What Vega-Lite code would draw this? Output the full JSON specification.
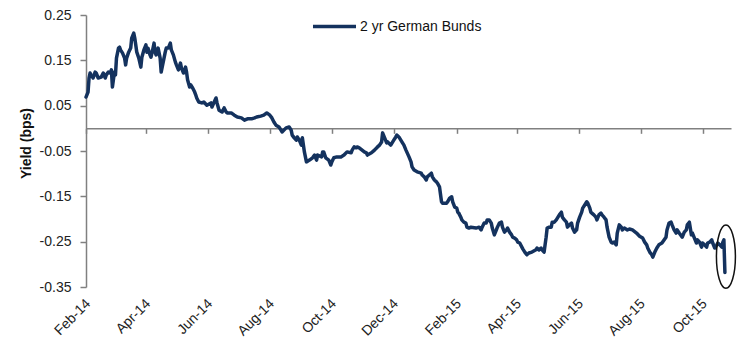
{
  "$schema": "https://vega.github.io/schema/vega-lite/v6.json",
  "width": 645,
  "height": 272,
  "autosize": {"type": "none"},
  "padding": {"left": 86, "top": 15, "right": 8, "bottom": 54},
  "background": "white",
  "config": {"view": {"stroke": null}, "font": "Liberation Sans"},
  "layer": [
    {
      "data": {"values": [
        {"date":"2014-02-01","yield":0.069},{"date":"2014-02-03","yield":0.080},{"date":"2014-02-04","yield":0.111},{"date":"2014-02-05","yield":0.122},{"date":"2014-02-06","yield":0.118},{"date":"2014-02-08","yield":0.111},{"date":"2014-02-10","yield":0.124},{"date":"2014-02-11","yield":0.122},{"date":"2014-02-13","yield":0.111},{"date":"2014-02-16","yield":0.113},{"date":"2014-02-18","yield":0.122},{"date":"2014-02-20","yield":0.111},{"date":"2014-02-21","yield":0.118},{"date":"2014-02-23","yield":0.124},{"date":"2014-02-25","yield":0.122},{"date":"2014-02-26","yield":0.129},{"date":"2014-02-27","yield":0.091},
        {"date":"2014-03-01","yield":0.124},{"date":"2014-03-02","yield":0.118},{"date":"2014-03-03","yield":0.155},{"date":"2014-03-05","yield":0.177},{"date":"2014-03-06","yield":0.179},{"date":"2014-03-07","yield":0.173},{"date":"2014-03-09","yield":0.166},{"date":"2014-03-11","yield":0.155},{"date":"2014-03-12","yield":0.140},{"date":"2014-03-13","yield":0.155},{"date":"2014-03-15","yield":0.168},{"date":"2014-03-17","yield":0.177},{"date":"2014-03-18","yield":0.199},{"date":"2014-03-20","yield":0.210},{"date":"2014-03-21","yield":0.199},{"date":"2014-03-22","yield":0.184},{"date":"2014-03-23","yield":0.168},{"date":"2014-03-25","yield":0.155},{"date":"2014-03-27","yield":0.135},{"date":"2014-03-28","yield":0.157},{"date":"2014-03-30","yield":0.173},
        {"date":"2014-04-01","yield":0.184},{"date":"2014-04-02","yield":0.168},{"date":"2014-04-03","yield":0.177},{"date":"2014-04-05","yield":0.162},{"date":"2014-04-06","yield":0.157},{"date":"2014-04-08","yield":0.177},{"date":"2014-04-09","yield":0.188},{"date":"2014-04-10","yield":0.168},{"date":"2014-04-11","yield":0.162},{"date":"2014-04-13","yield":0.177},{"date":"2014-04-15","yield":0.155},{"date":"2014-04-16","yield":0.124},{"date":"2014-04-18","yield":0.146},{"date":"2014-04-20","yield":0.168},{"date":"2014-04-21","yield":0.177},{"date":"2014-04-23","yield":0.177},{"date":"2014-04-25","yield":0.188},{"date":"2014-04-26","yield":0.173},{"date":"2014-04-28","yield":0.162},{"date":"2014-04-30","yield":0.146},
        {"date":"2014-05-01","yield":0.140},{"date":"2014-05-03","yield":0.129},{"date":"2014-05-05","yield":0.144},{"date":"2014-05-06","yield":0.133},{"date":"2014-05-08","yield":0.122},{"date":"2014-05-10","yield":0.135},{"date":"2014-05-11","yield":0.124},{"date":"2014-05-12","yield":0.107},{"date":"2014-05-14","yield":0.091},{"date":"2014-05-15","yield":0.096},{"date":"2014-05-17","yield":0.089},{"date":"2014-05-19","yield":0.080},{"date":"2014-05-20","yield":0.074},{"date":"2014-05-21","yield":0.067},{"date":"2014-05-23","yield":0.058},{"date":"2014-05-26","yield":0.056},{"date":"2014-05-28","yield":0.058},{"date":"2014-05-31","yield":0.051},
        {"date":"2014-06-04","yield":0.056},{"date":"2014-06-05","yield":0.047},{"date":"2014-06-09","yield":0.067},{"date":"2014-06-10","yield":0.056},{"date":"2014-06-12","yield":0.040},{"date":"2014-06-15","yield":0.036},{"date":"2014-06-17","yield":0.045},{"date":"2014-06-19","yield":0.036},{"date":"2014-06-20","yield":0.034},{"date":"2014-06-24","yield":0.034},{"date":"2014-06-27","yield":0.029},{"date":"2014-06-30","yield":0.025},
        {"date":"2014-07-04","yield":0.023},{"date":"2014-07-07","yield":0.018},{"date":"2014-07-10","yield":0.021},{"date":"2014-07-14","yield":0.021},{"date":"2014-07-17","yield":0.023},{"date":"2014-07-19","yield":0.025},{"date":"2014-07-23","yield":0.027},{"date":"2014-07-26","yield":0.029},{"date":"2014-07-29","yield":0.034},
        {"date":"2014-08-01","yield":0.029},{"date":"2014-08-03","yield":0.023},{"date":"2014-08-05","yield":0.014},{"date":"2014-08-07","yield":0.007},{"date":"2014-08-10","yield":0.003},{"date":"2014-08-12","yield":-0.004},{"date":"2014-08-13","yield":-0.008},{"date":"2014-08-17","yield":0.001},{"date":"2014-08-20","yield":0.003},{"date":"2014-08-22","yield":-0.004},{"date":"2014-08-23","yield":-0.015},{"date":"2014-08-25","yield":-0.021},{"date":"2014-08-27","yield":-0.026},{"date":"2014-08-28","yield":-0.019},{"date":"2014-08-30","yield":-0.026},
        {"date":"2014-09-01","yield":-0.037},{"date":"2014-09-02","yield":-0.021},{"date":"2014-09-04","yield":-0.052},{"date":"2014-09-06","yield":-0.074},{"date":"2014-09-09","yield":-0.070},{"date":"2014-09-12","yield":-0.065},{"date":"2014-09-14","yield":-0.059},{"date":"2014-09-16","yield":-0.070},{"date":"2014-09-17","yield":-0.059},{"date":"2014-09-21","yield":-0.063},{"date":"2014-09-22","yield":-0.052},{"date":"2014-09-23","yield":-0.052},{"date":"2014-09-25","yield":-0.065},{"date":"2014-09-28","yield":-0.070},{"date":"2014-09-30","yield":-0.081},
        {"date":"2014-10-01","yield":-0.074},{"date":"2014-10-03","yield":-0.065},{"date":"2014-10-06","yield":-0.063},{"date":"2014-10-10","yield":-0.063},{"date":"2014-10-13","yield":-0.059},{"date":"2014-10-16","yield":-0.052},{"date":"2014-10-20","yield":-0.054},{"date":"2014-10-21","yield":-0.048},{"date":"2014-10-23","yield":-0.041},{"date":"2014-10-25","yield":-0.043},{"date":"2014-10-26","yield":-0.041},{"date":"2014-10-28","yield":-0.043},
        {"date":"2014-11-02","yield":-0.052},{"date":"2014-11-04","yield":-0.054},{"date":"2014-11-05","yield":-0.059},{"date":"2014-11-09","yield":-0.054},{"date":"2014-11-12","yield":-0.048},{"date":"2014-11-15","yield":-0.041},{"date":"2014-11-17","yield":-0.037},{"date":"2014-11-19","yield":-0.030},{"date":"2014-11-20","yield":-0.010},{"date":"2014-11-22","yield":-0.021},{"date":"2014-11-24","yield":-0.032},{"date":"2014-11-25","yield":-0.030},{"date":"2014-11-28","yield":-0.037},
        {"date":"2014-12-01","yield":-0.026},{"date":"2014-12-03","yield":-0.019},{"date":"2014-12-04","yield":-0.015},{"date":"2014-12-06","yield":-0.019},{"date":"2014-12-09","yield":-0.030},{"date":"2014-12-11","yield":-0.037},{"date":"2014-12-13","yield":-0.048},{"date":"2014-12-16","yield":-0.063},{"date":"2014-12-18","yield":-0.074},{"date":"2014-12-19","yield":-0.085},{"date":"2014-12-21","yield":-0.092},{"date":"2014-12-24","yield":-0.096},{"date":"2014-12-28","yield":-0.099},{"date":"2014-12-29","yield":-0.103},{"date":"2014-12-31","yield":-0.107},
        {"date":"2015-01-02","yield":-0.114},{"date":"2015-01-03","yield":-0.107},{"date":"2015-01-05","yield":-0.103},{"date":"2015-01-07","yield":-0.099},{"date":"2015-01-08","yield":-0.107},{"date":"2015-01-10","yield":-0.114},{"date":"2015-01-12","yield":-0.118},{"date":"2015-01-13","yield":-0.121},{"date":"2015-01-15","yield":-0.129},{"date":"2015-01-17","yield":-0.162},{"date":"2015-01-18","yield":-0.165},{"date":"2015-01-22","yield":-0.165},{"date":"2015-01-23","yield":-0.162},{"date":"2015-01-25","yield":-0.154},{"date":"2015-01-27","yield":-0.151},{"date":"2015-01-28","yield":-0.162},{"date":"2015-01-30","yield":-0.174},
        {"date":"2015-02-01","yield":-0.176},{"date":"2015-02-02","yield":-0.185},{"date":"2015-02-03","yield":-0.187},{"date":"2015-02-05","yield":-0.196},{"date":"2015-02-06","yield":-0.202},{"date":"2015-02-08","yield":-0.207},{"date":"2015-02-10","yield":-0.209},{"date":"2015-02-11","yield":-0.218},{"date":"2015-02-13","yield":-0.220},{"date":"2015-02-15","yield":-0.218},{"date":"2015-02-20","yield":-0.220},{"date":"2015-02-23","yield":-0.218},{"date":"2015-02-25","yield":-0.224},{"date":"2015-02-26","yield":-0.218},{"date":"2015-02-28","yield":-0.209},
        {"date":"2015-03-02","yield":-0.209},{"date":"2015-03-03","yield":-0.202},{"date":"2015-03-05","yield":-0.202},{"date":"2015-03-07","yield":-0.209},{"date":"2015-03-08","yield":-0.220},{"date":"2015-03-10","yield":-0.235},{"date":"2015-03-12","yield":-0.224},{"date":"2015-03-13","yield":-0.218},{"date":"2015-03-15","yield":-0.209},{"date":"2015-03-17","yield":-0.207},{"date":"2015-03-18","yield":-0.218},{"date":"2015-03-20","yield":-0.229},{"date":"2015-03-22","yield":-0.224},{"date":"2015-03-23","yield":-0.220},{"date":"2015-03-25","yield":-0.229},{"date":"2015-03-27","yield":-0.235},{"date":"2015-03-28","yield":-0.240},{"date":"2015-03-30","yield":-0.242},
        {"date":"2015-04-01","yield":-0.246},{"date":"2015-04-02","yield":-0.251},{"date":"2015-04-04","yield":-0.253},{"date":"2015-04-07","yield":-0.266},{"date":"2015-04-09","yield":-0.273},{"date":"2015-04-11","yield":-0.279},{"date":"2015-04-13","yield":-0.275},{"date":"2015-04-16","yield":-0.273},{"date":"2015-04-20","yield":-0.268},{"date":"2015-04-21","yield":-0.264},{"date":"2015-04-23","yield":-0.268},{"date":"2015-04-25","yield":-0.264},{"date":"2015-04-26","yield":-0.268},{"date":"2015-04-28","yield":-0.273},{"date":"2015-04-30","yield":-0.240},
        {"date":"2015-05-01","yield":-0.220},{"date":"2015-05-03","yield":-0.218},{"date":"2015-05-05","yield":-0.218},{"date":"2015-05-06","yield":-0.207},{"date":"2015-05-08","yield":-0.207},{"date":"2015-05-10","yield":-0.202},{"date":"2015-05-13","yield":-0.191},{"date":"2015-05-15","yield":-0.185},{"date":"2015-05-16","yield":-0.196},{"date":"2015-05-18","yield":-0.202},{"date":"2015-05-20","yield":-0.207},{"date":"2015-05-21","yield":-0.218},{"date":"2015-05-23","yield":-0.213},{"date":"2015-05-25","yield":-0.209},{"date":"2015-05-26","yield":-0.220},{"date":"2015-05-28","yield":-0.229},{"date":"2015-05-30","yield":-0.224},{"date":"2015-05-31","yield":-0.209},
        {"date":"2015-06-02","yield":-0.196},{"date":"2015-06-04","yield":-0.185},{"date":"2015-06-05","yield":-0.176},{"date":"2015-06-07","yield":-0.169},{"date":"2015-06-09","yield":-0.162},{"date":"2015-06-10","yield":-0.165},{"date":"2015-06-12","yield":-0.176},{"date":"2015-06-13","yield":-0.185},{"date":"2015-06-14","yield":-0.187},{"date":"2015-06-16","yield":-0.191},{"date":"2015-06-18","yield":-0.196},{"date":"2015-06-19","yield":-0.202},{"date":"2015-06-21","yield":-0.191},{"date":"2015-06-23","yield":-0.187},{"date":"2015-06-24","yield":-0.191},{"date":"2015-06-26","yield":-0.196},{"date":"2015-06-28","yield":-0.202},{"date":"2015-06-29","yield":-0.218},
        {"date":"2015-07-01","yield":-0.240},{"date":"2015-07-03","yield":-0.251},{"date":"2015-07-04","yield":-0.253},{"date":"2015-07-06","yield":-0.251},{"date":"2015-07-08","yield":-0.257},{"date":"2015-07-09","yield":-0.231},{"date":"2015-07-11","yield":-0.213},{"date":"2015-07-13","yield":-0.218},{"date":"2015-07-14","yield":-0.224},{"date":"2015-07-16","yield":-0.220},{"date":"2015-07-19","yield":-0.224},{"date":"2015-07-21","yield":-0.222},{"date":"2015-07-24","yield":-0.224},{"date":"2015-07-28","yield":-0.231},{"date":"2015-07-31","yield":-0.238},
        {"date":"2015-08-03","yield":-0.242},{"date":"2015-08-05","yield":-0.251},{"date":"2015-08-07","yield":-0.257},{"date":"2015-08-08","yield":-0.264},{"date":"2015-08-10","yield":-0.273},{"date":"2015-08-12","yield":-0.279},{"date":"2015-08-13","yield":-0.284},{"date":"2015-08-15","yield":-0.273},{"date":"2015-08-17","yield":-0.264},{"date":"2015-08-19","yield":-0.257},{"date":"2015-08-22","yield":-0.253},{"date":"2015-08-26","yield":-0.240},{"date":"2015-08-27","yield":-0.224},{"date":"2015-08-29","yield":-0.209},{"date":"2015-08-31","yield":-0.207},
        {"date":"2015-09-01","yield":-0.213},{"date":"2015-09-03","yield":-0.224},{"date":"2015-09-05","yield":-0.231},{"date":"2015-09-06","yield":-0.224},{"date":"2015-09-08","yield":-0.231},{"date":"2015-09-11","yield":-0.240},{"date":"2015-09-13","yield":-0.229},{"date":"2015-09-15","yield":-0.224},{"date":"2015-09-16","yield":-0.213},{"date":"2015-09-18","yield":-0.207},{"date":"2015-09-20","yield":-0.235},{"date":"2015-09-21","yield":-0.231},{"date":"2015-09-23","yield":-0.242},{"date":"2015-09-25","yield":-0.253},{"date":"2015-09-26","yield":-0.246},{"date":"2015-09-28","yield":-0.251},{"date":"2015-09-30","yield":-0.262},
        {"date":"2015-10-01","yield":-0.253},{"date":"2015-10-03","yield":-0.257},{"date":"2015-10-05","yield":-0.262},{"date":"2015-10-06","yield":-0.253},{"date":"2015-10-08","yield":-0.251},{"date":"2015-10-10","yield":-0.246},{"date":"2015-10-11","yield":-0.253},{"date":"2015-10-13","yield":-0.264},{"date":"2015-10-15","yield":-0.257},{"date":"2015-10-16","yield":-0.253},{"date":"2015-10-18","yield":-0.257},{"date":"2015-10-20","yield":-0.262},{"date":"2015-10-21","yield":-0.251},{"date":"2015-10-22","yield":-0.246},{"date":"2015-10-23","yield":-0.318}
      ]},
      "mark": {"type": "line", "strokeWidth": 3.5, "strokeJoin": "round", "strokeCap": "round"},
      "encoding": {
        "x": {
          "field": "date", "type": "temporal",
          "scale": {"type": "utc", "domain": [{"year": 2014, "month": 2, "date": 1, "utc": true}, {"year": 2015, "month": 10, "date": 29, "utc": true}]},
          "axis": {
            "title": null,
            "values": [
              {"year": 2014, "month": 2, "date": 1, "utc": true},
              {"year": 2014, "month": 4, "date": 1, "utc": true},
              {"year": 2014, "month": 6, "date": 1, "utc": true},
              {"year": 2014, "month": 8, "date": 1, "utc": true},
              {"year": 2014, "month": 10, "date": 1, "utc": true},
              {"year": 2014, "month": 12, "date": 1, "utc": true},
              {"year": 2015, "month": 2, "date": 1, "utc": true},
              {"year": 2015, "month": 4, "date": 1, "utc": true},
              {"year": 2015, "month": 6, "date": 1, "utc": true},
              {"year": 2015, "month": 8, "date": 1, "utc": true},
              {"year": 2015, "month": 10, "date": 1, "utc": true}
            ],
            "format": "%b-%y",
            "labelAngle": -45,
            "offset": -158.67,
            "tickSize": 5,
            "labelPadding": 163,
            "labelOffset": -3,
            "domainColor": "#808080",
            "domainWidth": 1.5,
            "tickColor": "#808080",
            "tickWidth": 1.5,
            "labelFont": "Liberation Sans",
            "labelFontSize": 14,
            "labelColor": "#222222",
            "labelFlush": false,
            "labelOverlap": false,
            "labelBound": false,
            "grid": false
          }
        },
        "y": {
          "field": "yield", "type": "quantitative",
          "scale": {"domain": [-0.35, 0.25], "nice": false, "zero": false},
          "axis": {
            "title": "Yield (bps)",
            "values": [-0.35, -0.25, -0.15, -0.05, 0.05, 0.15, 0.25],
            "format": ".2f",
            "labelExpr": "replace(datum.label, '\u2212', '-')",
            "tickSize": 6,
            "labelPadding": 9,
            "domainColor": "#808080",
            "domainWidth": 1.5,
            "tickColor": "#808080",
            "tickWidth": 1.5,
            "labelFont": "Liberation Sans",
            "labelFontSize": 14,
            "labelColor": "#222222",
            "titleFont": "Liberation Sans",
            "titleFontSize": 14,
            "titleFontWeight": "bold",
            "titleColor": "#111111",
            "titlePadding": 6,
            "titleY": 128,
            "grid": false
          }
        },
        "color": {
          "datum": "2 yr German Bunds",
          "scale": {"range": ["#14325e"]},
          "legend": {
            "title": null,
            "orient": "none",
            "legendX": 225,
            "legendY": -12,
            "symbolType": "stroke",
            "symbolSize": 1850,
            "symbolStrokeWidth": 3.5,
            "labelFont": "Liberation Sans",
            "labelFontSize": 14,
            "labelColor": "#111111",
            "labelOffset": 2,
            "padding": 0
          }
        }
      }
    },
    {
      "data": {"values": [{"date": "2015-10-24", "yield": -0.283}]},
      "mark": {
        "type": "point",
        "shape": "M0,-1C0.1657,-1 0.3,-0.5523 0.3,0C0.3,0.5523 0.1657,1 0,1C-0.1657,1 -0.3,0.5523 -0.3,0C-0.3,-0.5523 -0.1657,-1 0,-1Z",
        "size": 4000,
        "filled": false,
        "stroke": "#111111",
        "strokeWidth": 1.5,
        "opacity": 1
      },
      "encoding": {
        "x": {"field": "date", "type": "temporal"},
        "y": {"field": "yield", "type": "quantitative"}
      }
    }
  ]
}
